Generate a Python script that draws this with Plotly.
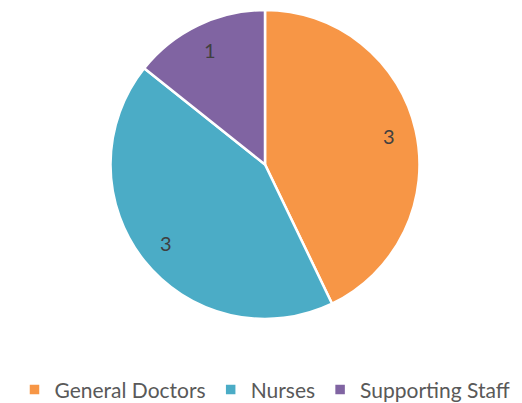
import math
import plotly.graph_objects as go

labels = ["General Doctors", "Nurses", "Supporting Staff"]
values = [3, 3, 1]
colors = ["#F79646", "#4BACC6", "#8064A2"]

W, H = 514, 395
M = dict(l=0, r=0, t=2, b=84)
label_r = 0.82  # fraction of radius where data labels sit

fig = go.Figure(go.Pie(
    labels=labels,
    values=values,
    sort=False,
    direction="clockwise",
    rotation=0,
    marker=dict(colors=colors, line=dict(color="white", width=2.5)),
    textinfo="none",
    hoverinfo="label+value",
))

# data labels placed at a fixed fraction of the radius along each slice's mid-angle
pw = W - M["l"] - M["r"]
ph = H - M["t"] - M["b"]
R = min(pw, ph) / 2
total = sum(values)
cum = 0
annotations = []
for v in values:
    mid = (cum + v / 2) / total * 2 * math.pi
    cum += v
    dx = label_r * R * math.sin(mid)
    dy = label_r * R * math.cos(mid)
    annotations.append(dict(
        x=0.5 + dx / pw, y=0.5 + dy / ph, xref="paper", yref="paper",
        xanchor="center", yanchor="middle",
        text=str(v), showarrow=False,
        font=dict(family="Lato", size=20, color="#404040"),
    ))

fig.update_layout(
    width=W,
    height=H,
    margin=M,
    paper_bgcolor="white",
    plot_bgcolor="white",
    showlegend=True,
    annotations=annotations,
    legend=dict(
        orientation="h",
        x=0.5,
        xanchor="center",
        yref="container",
        y=0.033,
        yanchor="middle",
        font=dict(family="Lato", size=21, color="#595959"),
        itemwidth=30,
        tracegroupgap=0,
        bgcolor="rgba(0,0,0,0)",
    ),
)

fig.write_html("out.html")
